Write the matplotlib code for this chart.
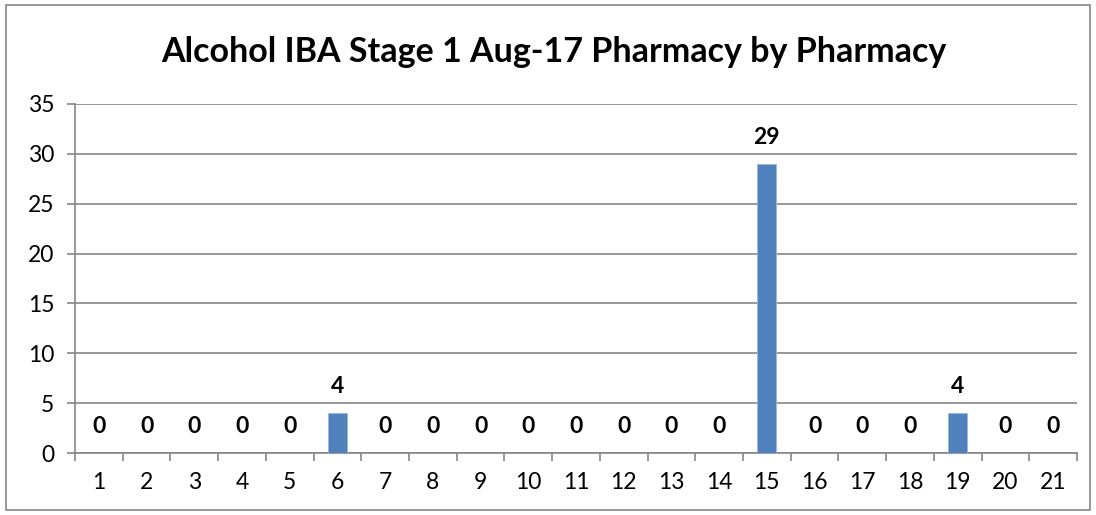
import matplotlib.pyplot as plt
import matplotlib.patches as mpatches
import numpy as np

# data
pharmacies = [str(i) for i in range(1, 22)]
counts = [0, 0, 0, 0, 0, 4, 0, 0, 0, 0, 0, 0, 0, 0, 29, 0, 0, 0, 4, 0, 0]

bar_color = '#4F81BD'
grid_color = '#868686'
font = ['Lato', 'DejaVu Sans']
plt.rcParams['font.family'] = font

fig = plt.figure(figsize=(10.96, 5.15), dpi=100)
W, H = 1096, 515
ax = fig.add_axes([75 / W, 1 - 453 / H, (1077 - 75) / W, (453 - 104) / H])

x = np.arange(len(pharmacies))
ax.bar(x, counts, width=0.4, color=bar_color, edgecolor='#9BB8DC', linewidth=0.6, zorder=3)

for xi, v in zip(x, counts):
    ax.annotate(str(v), xy=(xi, v), xytext=(0, 19), textcoords='offset points',
                ha='center', va='center', fontsize=16.5, fontweight='bold', color='black')

ax.set_xlim(-0.5, len(pharmacies) - 0.5)
ax.set_ylim(0, 35)
ax.set_yticks(np.arange(0, 36, 5))
ax.yaxis.grid(True, color=grid_color, linewidth=1.2, zorder=0)
ax.set_axisbelow(True)

# category labels centred, tick marks at boundaries
ax.set_xticks(x)
ax.set_xticklabels(pharmacies)
ax.set_xticks(np.arange(-0.5, len(pharmacies) + 0.5, 1), minor=True)
ax.tick_params(axis='x', which='major', length=0, pad=14, labelsize=16.5)
ax.tick_params(axis='x', which='minor', length=5.5, width=1.2, color=grid_color, direction='out')
ax.tick_params(axis='y', length=6, width=1.2, color=grid_color, labelsize=16.5, pad=9)

for s in ['top', 'right']:
    ax.spines[s].set_visible(False)
for s in ['left', 'bottom']:
    ax.spines[s].set_color(grid_color)
    ax.spines[s].set_linewidth(1.2)

fig.text(0.505, 1 - 52 / H, 'Alcohol IBA Stage 1 Aug-17 Pharmacy by Pharmacy',
         ha='center', va='center', fontsize=24.5, fontweight='bold')

border = mpatches.Rectangle((6 / W, 5 / H), (1090 - 6) / W, (510 - 5) / H,
                            transform=fig.transFigure, fill=False,
                            edgecolor='#868686', linewidth=1.2)
fig.patches.append(border)

fig.savefig('out.png', dpi=100)
